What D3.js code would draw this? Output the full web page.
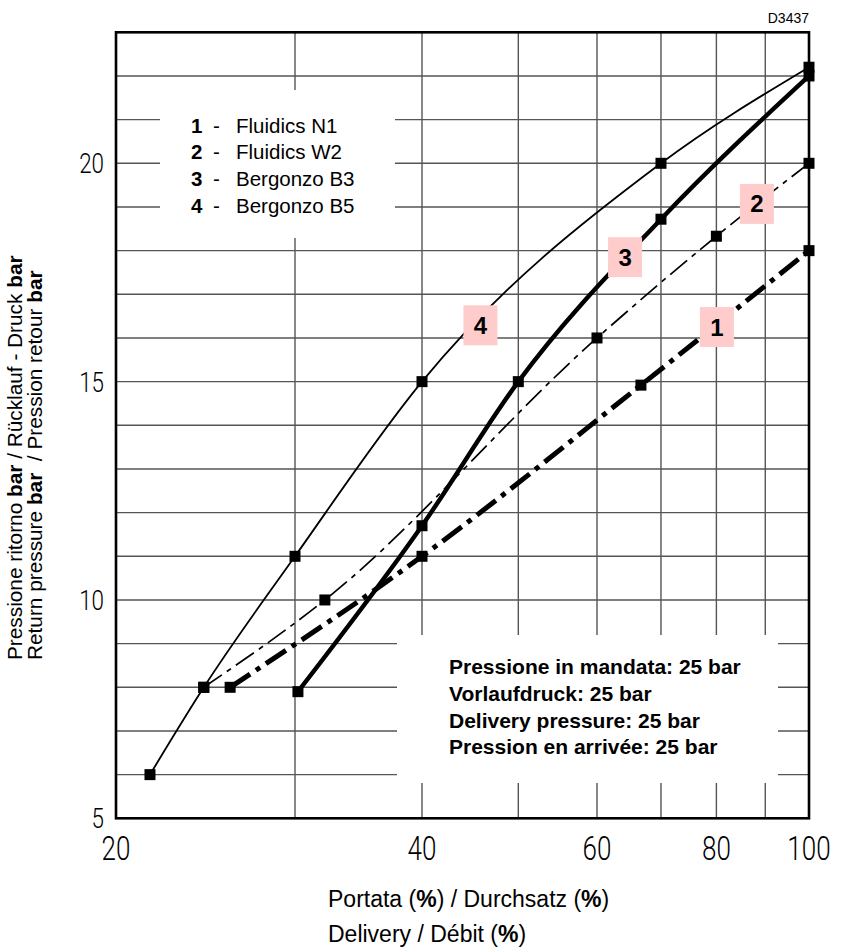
<!DOCTYPE html>
<html>
<head>
<meta charset="utf-8">
<script src="https://cdn.jsdelivr.net/npm/d3@7"></script>
<style>
  html, body { margin: 0; padding: 0; background: #fff; }
  svg { display: block; }
  text { font-family: "Liberation Sans", Arial, Helvetica, sans-serif; fill: #000; white-space: pre; }
  .tick { font-family: Roboto, "Liberation Sans", sans-serif; font-weight: 300; }
</style>
</head>
<body>
<svg id="chart" width="841" height="949"></svg>
<script>
// ---------- data ----------
const xTickValues = [20, 40, 60, 80, 100];
const xGridValues = [20, 30, 40, 50, 60, 70, 80, 90, 100];
const yTickValues = [5, 10, 15, 20];
const yGridValues = [5, 6, 7, 8, 9, 10, 11, 12, 13, 14, 15, 16, 17, 18, 19, 20, 21, 22, 23];

// Series 1 - Fluidics N1
const n1X = [25.9, 40, 66.7, 100];
const n1Y = [8, 11, 14.92, 18];
// Series 2 - Fluidics W2
const w2X = [24.4, 32.1, 60, 80, 100];
const w2Y = [8, 10, 16, 18.33, 20];
// Series 3 - Bergonzo B3
const b3X = [30.2, 40, 50, 70, 100];
const b3Y = [7.9, 11.7, 15, 18.72, 22];
// Series 4 - Bergonzo B5
const b5X = [21.6, 24.4, 30, 40, 70, 100];
const b5Y = [6, 8, 11, 15, 20, 22.2];

const legendNums = ["1", "2", "3", "4"];
const legendNames = ["Fluidics N1", "Fluidics W2", "Bergonzo B3", "Bergonzo B5"];
const noteLines = ["Pressione in mandata: 25 bar", "Vorlaufdruck: 25 bar", "Delivery pressure: 25 bar", "Pression en arrivée: 25 bar"];

// ---------- layout ----------
const svg = d3.select("#chart");
const L = 116, R = 809, T = 32.3, B = 818.3;

// the printed log axis is slightly uneven; piecewise log scale follows it
const x = d3.scaleLog().domain([20, 40, 60, 100]).range([L, 422, 597, R]);
const y = d3.scaleLinear().domain([5, 23]).range([B, T]);

const series = [
  {num: "1", xs: n1X, ys: n1Y, width: 5, dash: "24,7,5,7", lab: [80.1, 16.25]},
  {num: "2", xs: w2X, ys: w2Y, width: 1.7, dash: "22,6,5,6", lab: [88.2, 19.07]},
  {num: "3", xs: b3X, ys: b3Y, width: 4.4, dash: null, lab: [64.2, 17.85]},
  {num: "4", xs: b5X, ys: b5Y, width: 1.8, dash: null, lab: [45.8, 16.29]}
];

// ---------- grid ----------
const grid = svg.append("g");
grid.selectAll("line.v").data(xGridValues).enter().append("line")
  .attr("x1", d => x(d)).attr("x2", d => x(d))
  .attr("y1", T).attr("y2", B)
  .attr("stroke", "#555").attr("stroke-width", 1.4);
grid.selectAll("line.h").data(yGridValues).enter().append("line")
  .attr("x1", L).attr("x2", R)
  .attr("y1", d => y(d)).attr("y2", d => y(d))
  .attr("stroke", "#555").attr("stroke-width", 1.4);

// white boxes over grid (legend + note)
svg.append("rect").attr("x", 160).attr("y", 90).attr("width", 235).attr("height", 148).attr("fill", "#fff");
svg.append("rect").attr("x", 397).attr("y", 635).attr("width", 381).attr("height", 148).attr("fill", "#fff");

// frame
svg.append("rect").attr("x", L).attr("y", T).attr("width", R - L).attr("height", B - T)
  .attr("fill", "none").attr("stroke", "#000").attr("stroke-width", 2.6);

// ---------- series ----------
const line = d3.line().x(d => x(d[0])).y(d => y(d[1])).curve(d3.curveMonotoneX);
const gLines = svg.append("g");
series.forEach(s => {
  const pts = s.xs.map((v, i) => [v, s.ys[i]]);
  gLines.append("path").datum(pts)
    .attr("d", line)
    .attr("fill", "none").attr("stroke", "#000")
    .attr("stroke-width", s.width)
    .attr("stroke-dasharray", s.dash)
    .attr("stroke-linejoin", "round");
});
const gMarks = svg.append("g");
series.forEach(s => {
  const pts = s.xs.map((v, i) => [v, s.ys[i]]);
  gMarks.selectAll(null).data(pts).enter().append("rect")
    .attr("x", d => x(d[0]) - 5.5).attr("y", d => y(d[1]) - 5.5)
    .attr("width", 11).attr("height", 11).attr("fill", "#000");
});

// pink number labels
const gLab = svg.append("g");
series.forEach(s => {
  const cx = x(s.lab[0]), cy = y(s.lab[1]);
  gLab.append("rect").attr("x", cx - 17).attr("y", cy - 20).attr("width", 34).attr("height", 40)
    .attr("fill", "#ffcccc");
  gLab.append("text").attr("x", cx).attr("y", cy + 8.5)
    .attr("text-anchor", "middle").attr("font-size", 24).attr("font-weight", "bold").text(s.num);
});

// ---------- axes labels ----------
svg.selectAll("text.xt").data(xTickValues).enter().append("text")
  .attr("class", "tick")
  .attr("transform", d => `translate(${x(d)},860) scale(0.8,1)`)
  .attr("text-anchor", "middle").attr("font-size", 32.5)
  .text(d => d);
svg.selectAll("text.yt").data(yTickValues).enter().append("text")
  .attr("class", "tick")
  .attr("transform", d => `translate(104,${y(d) + 10}) scale(0.8,1)`)
  .attr("text-anchor", "end").attr("font-size", 28)
  .text(d => d);

// x title
const xt1 = svg.append("text").attr("x", 328).attr("y", 907).attr("font-size", 23);
xt1.append("tspan").text("Portata (");
xt1.append("tspan").attr("font-weight", "bold").text("%");
xt1.append("tspan").text(") / Durchsatz (");
xt1.append("tspan").attr("font-weight", "bold").text("%");
xt1.append("tspan").text(")");
const xt2 = svg.append("text").attr("x", 328).attr("y", 942).attr("font-size", 23);
xt2.append("tspan").text("Delivery / Débit (");
xt2.append("tspan").attr("font-weight", "bold").text("%");
xt2.append("tspan").text(")");

// y title
const yt1 = svg.append("text").attr("transform", "translate(22,660) rotate(-90)").attr("font-size", 20.8);
yt1.append("tspan").text("Pressione ritorno ");
yt1.append("tspan").attr("font-weight", "bold").text("bar");
yt1.append("tspan").text(" / Rücklauf - Druck ");
yt1.append("tspan").attr("font-weight", "bold").text("bar");
const yt2 = svg.append("text").attr("transform", "translate(42,660) rotate(-90)").attr("font-size", 20.8);
yt2.append("tspan").text("Return pressure ");
yt2.append("tspan").attr("font-weight", "bold").text("bar");
yt2.append("tspan").text("  / Pression retour ");
yt2.append("tspan").attr("font-weight", "bold").text("bar");

// code
svg.append("text").attr("x", 809).attr("y", 23).attr("text-anchor", "end").attr("font-size", 14).text("D3437");

// legend
const rowsY = [132.7, 159.3, 186.3, 212.5];
legendNums.forEach((n, i) => {
  svg.append("text").attr("x", 191).attr("y", rowsY[i]).attr("font-size", 20.5).attr("font-weight", "bold").text(n);
  svg.append("text").attr("x", 213).attr("y", rowsY[i]).attr("font-size", 20.5).text("-");
  svg.append("text").attr("x", 236).attr("y", rowsY[i]).attr("font-size", 20.5).text(legendNames[i]);
});

// note
const noteY = [674, 701, 728, 754];
noteLines.forEach((t, i) => {
  svg.append("text").attr("x", 449).attr("y", noteY[i]).attr("font-size", 21).attr("font-weight", "bold").text(t);
});
</script>
</body>
</html>
